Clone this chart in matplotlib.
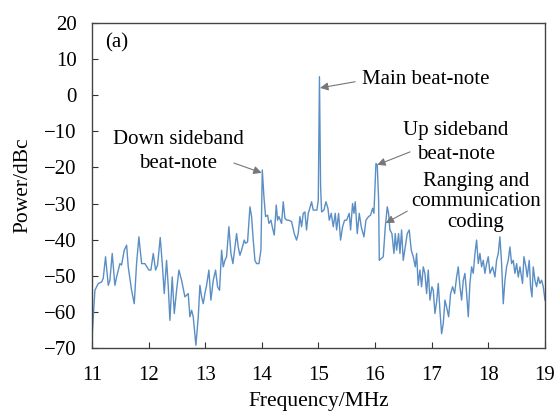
import matplotlib.pyplot as plt

plt.rcParams["font.family"] = ["Liberation Serif", "DejaVu Serif"]

# Spectrum
freq = [11.006, 11.053, 11.112, 11.171, 11.200, 11.241, 11.289, 11.318, 11.359, 11.406,
        11.436, 11.495, 11.524, 11.571, 11.613, 11.642, 11.701, 11.748, 11.789, 11.830,
        11.878, 11.936, 12.007, 12.042, 12.084, 12.125, 12.160, 12.207, 12.243, 12.278,
        12.319, 12.349, 12.378, 12.419, 12.455, 12.496, 12.537, 12.584, 12.643, 12.702,
        12.731, 12.761, 12.790, 12.837, 12.879, 12.908, 12.938, 12.967, 12.996, 13.026,
        13.067, 13.102, 13.144, 13.185, 13.220, 13.255, 13.291, 13.320, 13.350, 13.379,
        13.420, 13.456, 13.491, 13.527, 13.556, 13.585, 13.615, 13.644, 13.691, 13.715,
        13.750, 13.792, 13.821, 13.850, 13.880, 13.909, 13.951, 13.986, 14.010, 14.039,
        14.068, 14.104, 14.127, 14.163, 14.186, 14.221, 14.257, 14.280, 14.304, 14.351,
        14.380, 14.410, 14.445, 14.481, 14.528, 14.575, 14.616, 14.645, 14.675, 14.704,
        14.734, 14.763, 14.792, 14.822, 14.857, 14.881, 14.910, 14.940, 14.975, 14.999,
        15.020,
        15.040, 15.058, 15.099, 15.134, 15.170, 15.193, 15.228, 15.264, 15.299, 15.323,
        15.358, 15.393, 15.429, 15.464, 15.499, 15.546, 15.570, 15.605, 15.629, 15.652,
        15.688, 15.723, 15.758, 15.806, 15.841, 15.888, 15.923, 15.959, 15.982, 16.018,
        16.041, 16.065, 16.077, 16.112, 16.147, 16.183, 16.218, 16.241, 16.265, 16.300,
        16.336, 16.359, 16.383, 16.418, 16.442, 16.471, 16.500, 16.536, 16.571, 16.606,
        16.642, 16.677, 16.713, 16.736, 16.765, 16.795, 16.824, 16.854, 16.883, 16.913,
        16.942, 16.972, 17.007, 17.031, 17.060, 17.090, 17.119, 17.148, 17.178, 17.207,
        17.237, 17.266, 17.302, 17.337, 17.372, 17.408, 17.443, 17.472, 17.502, 17.531,
        17.561, 17.590, 17.620, 17.649, 17.678, 17.708, 17.737, 17.767, 17.796, 17.826,
        17.855, 17.884, 17.914, 17.943, 17.973, 18.002, 18.032, 18.079, 18.120, 18.149,
        18.179, 18.208, 18.238, 18.267, 18.297, 18.326, 18.355, 18.385, 18.414, 18.444,
        18.473, 18.503, 18.532, 18.562, 18.608, 18.632, 18.667, 18.691, 18.726, 18.750,
        18.774, 18.797, 18.827, 18.856, 18.886, 18.915, 18.945, 18.974, 19.004]

power = [-66.0, -54.0, -52.1, -51.7, -50.7, -44.7, -52.6, -51.2, -43.8, -52.6,
         -50.3, -46.6, -47.0, -42.9, -41.5, -47.5, -54.0, -57.7, -46.6, -39.2,
         -46.6, -46.6, -48.4, -48.4, -43.8, -48.4, -47.0, -39.4, -46.6, -54.9,
         -45.7, -53.0, -62.3, -50.3, -60.4, -54.0, -48.4, -51.2, -55.8, -54.9,
         -61.3, -59.5, -61.3, -69.2, -61.3, -52.6, -55.8, -57.7, -54.9, -52.6,
         -48.4, -56.7, -51.2, -48.4, -53.0, -54.0, -42.9, -47.5, -45.7, -44.7,
         -36.4, -43.8, -46.6, -42.0, -38.3, -42.0, -44.3, -42.9, -40.1, -41.0,
         -40.6, -30.9, -33.6, -40.1, -45.7, -46.6, -46.6, -42.9, -20.7, -28.1,
         -33.6, -33.2, -35.5, -34.6, -36.4, -38.7, -30.4, -34.6, -33.6, -35.5,
         -29.5, -34.1, -34.6, -34.6, -35.0, -38.3, -40.1, -38.3, -33.6, -36.4,
         -32.7, -32.3, -37.3, -32.7, -30.9, -29.5, -31.8, -31.8, -31.8, -29.0,
         5.1,
         -25.3, -32.3, -31.8, -29.5, -31.3, -34.6, -32.7, -36.4, -32.7, -37.3,
         -32.7, -40.1, -36.4, -34.6, -34.6, -32.7, -37.3, -30.0, -32.7, -29.5,
         -38.3, -32.7, -36.4, -39.2, -34.6, -33.6, -33.2, -31.3, -32.7, -18.9,
         -19.3, -29.0, -45.7, -45.2, -44.7, -36.4, -30.9, -32.7, -37.3, -38.3,
         -43.8, -38.3, -42.9, -38.3, -43.8, -37.3, -45.7, -42.0, -38.3, -37.3,
         -42.9, -44.7, -47.5, -43.8, -52.6, -48.4, -53.0, -47.5, -49.3, -54.9,
         -48.4, -56.7, -53.0, -54.0, -60.4, -57.2, -52.1, -59.5, -66.0, -63.2,
         -56.7, -58.6, -61.3, -54.9, -53.0, -54.9, -50.3, -47.5, -53.0, -56.7,
         -51.2, -49.3, -54.9, -61.3, -52.1, -47.5, -49.3, -43.8, -40.1, -46.6,
         -43.8, -47.5, -45.7, -49.3, -46.6, -44.7, -49.3, -47.5, -50.3, -45.7,
         -43.8, -39.2, -46.6, -57.7, -51.2, -47.5, -45.7, -42.0, -46.6, -45.7,
         -49.3, -46.6, -50.3, -47.5, -52.1, -44.7, -47.5, -50.3, -45.7, -53.0,
         -55.8, -47.5, -51.2, -53.0, -50.3, -52.1, -51.2, -53.0, -56.7]

x_ticks = [11, 12, 13, 14, 15, 16, 17, 18, 19]
y_ticks = [20, 10, 0, -10, -20, -30, -40, -50, -60, -70]

fig = plt.figure(figsize=(5.57, 4.15), dpi=100)
ax = fig.add_axes([0.165, 0.161, 0.813, 0.784])

ax.plot(freq, power, color="#5a8ec4", lw=1.0)

ax.set_xlim(11, 19)
ax.set_ylim(-70, 20)
ax.set_xticks(x_ticks)
ax.set_yticks(y_ticks)
ax.tick_params(direction="in", length=4, width=0.8, labelsize=15, color="#333333")
ax.tick_params(axis="x", pad=13)
ax.tick_params(axis="y", pad=11)
for s in ax.spines.values():
    s.set_color("#444444")
    s.set_linewidth(1.0)

ax.set_xlabel("Frequency/MHz", fontsize=15.5, labelpad=5)
ax.set_ylabel("Power/dBc", fontsize=15.5, labelpad=8)

fs = 15
ax.text(11.23, 14.5, "(a)", fontsize=fs, ha="left", va="center")
ax.text(12.52, -15.5, "Down sideband\nbeat-note", fontsize=fs, ha="center", va="center", linespacing=1.35)
ax.text(15.77, 4.2, "Main beat-note", fontsize=fs, ha="left", va="center")
ax.text(17.43, -13.1, "Up sideband\nbeat-note", fontsize=fs, ha="center", va="center", linespacing=1.35)
ax.text(17.78, -29.5, "Ranging and\ncommunication\ncoding", fontsize=fs, ha="center", va="center", linespacing=1.12)

arrow = dict(arrowstyle="-|>", color="#777777", lw=0.8, mutation_scale=12,
             shrinkA=0, shrinkB=0)
arrow_fc = dict(arrow, facecolor="#111111")
ax.annotate("", xy=(14.00, -21.5), xytext=(13.51, -18.8), arrowprops=arrow_fc)
ax.annotate("", xy=(15.03, 2.0), xytext=(15.65, 3.7), arrowprops=arrow_fc)
ax.annotate("", xy=(16.04, -19.3), xytext=(16.62, -15.7), arrowprops=arrow_fc)
ax.annotate("", xy=(16.19, -35.4), xytext=(16.57, -32.1), arrowprops=arrow_fc)

fig.savefig("out.png", dpi=100)
